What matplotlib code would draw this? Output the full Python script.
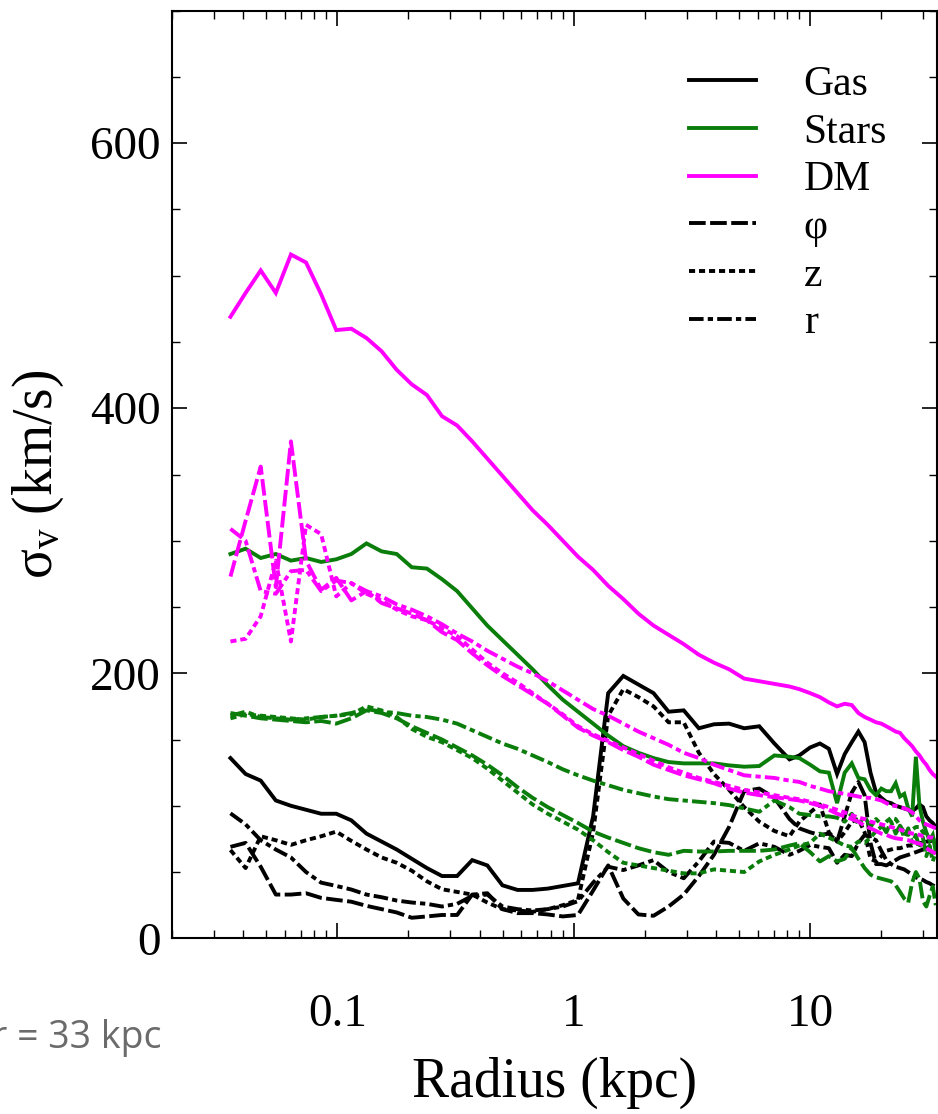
import matplotlib
matplotlib.use('Agg')
import matplotlib.pyplot as plt
from matplotlib.lines import Line2D
from matplotlib.ticker import FixedLocator, MultipleLocator, LogLocator, NullFormatter

plt.rcParams['font.family'] = ['Liberation Serif', 'DejaVu Serif']
plt.rcParams['mathtext.fontset'] = 'custom'
plt.rcParams['mathtext.rm'] = 'Liberation Serif'
plt.rcParams['mathtext.it'] = 'Liberation Serif:italic'
plt.rcParams['lines.scale_dashes'] = False

# ---------------- data ----------------
radius_kpc = [0.03534, 0.04095, 0.04745, 0.05497, 0.06368, 0.07378, 0.08547, 0.09902,
              0.1147, 0.1329, 0.1540, 0.1784, 0.2066, 0.2394, 0.2773, 0.3213, 0.3722,
              0.4312, 0.4995, 0.5787, 0.6704, 0.7767, 0.8998, 1.0425, 1.208, 1.399,
              1.621, 1.878, 2.176, 2.520, 2.920, 3.383, 3.919, 4.541, 5.260, 6.094,
              7.061, 8.180,
              9, 10, 11, 12, 13, 14, 15, 16, 17, 18, 19, 20, 21, 22, 23, 24, 25, 26,
              27, 28, 29, 30, 31, 32, 33, 34]

gas_total = [136, 124, 119, 104, 100, 97, 94, 94, 89, 79, 73, 67, 60, 53, 47, 47, 59, 55, 40, 36.5,
             36.5, 37.5, 39.5, 41.5, 92, 185, 198, 191.5, 185, 171, 172, 158.5, 161.5, 162, 158.5, 160, 147, 135,
             138, 144, 147, 143, 124, 139, 148, 156, 148, 125, 110, 106, 103, 102, 100, 99, 98, 97, 96, 98,
             101, 99, 92, 89, 87, 84]
gas_phi = [69, 72, 54, 33, 33, 34, 30.5, 29, 27.6, 24.5, 22, 19.5, 15.5, 16.5, 17.6, 17.6, 33, 34, 22, 19,
           19, 18, 16.5, 17.6, 36, 55, 30, 18, 17, 24, 33, 47, 63, 84, 111, 113, 106, 90,
           83, 80, 78, 79, 73, 92, 110, 118, 108, 72, 56, 56, 55, 57, 59, 61, 62, 63, 64, 65,
           66, 67, 68, 69, 70, 71.5]
gas_z = [66.6, 53, 77, 74, 70.5, 74, 77, 80.5, 73.5, 67, 61, 57, 51, 43, 37, 35, 33, 27, 22, 21,
         20, 22, 25, 29, 80, 168, 188, 182, 175, 163, 163, 140, 124, 112, 99, 88, 81, 77,
         88, 95, 101, 80, 73, 80, 88, 90, 80, 60, 58, 62, 66, 67, 68, 68, 69, 70, 70, 71,
         72, 72, 73, 73, 74, 74]
gas_r = [94.3, 86, 74, 67, 61, 50, 42, 39.5, 36.8, 33, 31, 28.5, 27, 26, 24, 26, 32, 33, 24, 22,
         21, 22, 24, 28, 42, 54, 51.5, 55, 59, 50, 45.3, 58, 73, 72, 66, 71.7, 69, 63,
         66, 70.4, 69, 68, 57, 63, 62, 72, 78, 76, 74, 66, 59, 56, 54, 53, 52, 50, 48, 46,
         45, 44, 42.5, 41.5, 40, 39]

stars_total = [290, 294, 287, 290, 285, 287, 284, 286, 290, 298, 292, 290, 280, 279, 271, 262, 249, 236, 225, 214,
               203, 191, 180, 171, 162, 153, 145, 140, 136, 133, 132, 132, 132, 130.5, 129.5, 130, 138, 137,
               136, 131, 126, 125, 102, 125, 132, 121, 120, 112, 108, 113, 111, 111, 117, 107, 109, 98,
               92, 137, 100, 88, 80, 74, 78, 65]
stars_phi = [170, 168, 166, 165, 164, 163, 164, 162, 166, 172, 170, 166, 160, 155, 150, 144, 138, 131, 123, 114,
             106, 99, 93, 87, 80.5, 76, 72, 68, 65, 63, 66, 65.5, 65.5, 66, 66, 66, 67, 70,
             71.7, 65, 58, 62, 58, 60, 68, 60, 53, 48, 46, 45, 44, 43, 40, 35, 30, 27,
             42, 50, 45, 28, 24, 32, 39, 25]
stars_z = [166, 169, 168, 167, 166, 165, 167, 168, 169, 175, 172, 167, 158, 152, 148, 142, 136, 128, 119, 110,
           101, 94, 88, 82, 74, 65, 57, 55, 53, 51, 49, 49, 52, 51, 50, 58, 63, 67,
           70, 72, 79, 76, 73, 70, 69, 73, 72, 76, 81, 84, 88, 91, 90, 85, 80, 78,
           82, 84, 84, 80, 78, 76, 75, 72]
stars_r = [168, 171, 167, 166, 165, 166, 167, 168, 170, 173, 171, 170, 168, 167, 165, 162, 157, 152, 147, 143,
           138, 133, 127.5, 123, 119, 115.5, 112, 109.5, 107, 105, 104, 103, 102, 100.5, 98, 95.5, 104, 99,
           94, 93, 92, 92, 91, 88, 94, 86, 92, 84, 90, 86, 80, 88, 79, 85, 76, 83,
           72, 78, 68, 76, 62, 70, 58, 65]

dm_total = [469, 487, 504, 487, 516, 510, 486, 459, 460, 453, 443, 429, 418, 410, 394, 387, 375, 362, 349, 336,
            323, 312, 300, 288, 278, 266, 256, 245, 236, 229, 222, 214, 208, 203, 196, 194, 192, 190,
            188, 185, 182, 178, 175, 177, 176, 170, 167, 165, 163, 162, 160, 158, 156, 155, 151, 148,
            145, 141, 138, 134, 131, 127, 124, 122]
dm_phi = [273, 315, 356, 265, 375, 285, 263, 272, 255, 262, 253, 249, 245, 240, 231, 225, 215, 206, 198, 191,
          184, 177, 168, 159, 153, 148, 142, 137, 131, 127, 123, 120, 117, 113, 110, 108, 106.5, 105,
          104, 102, 100, 97, 94, 92, 90, 88, 85, 83, 81, 79, 78, 76.5, 75.5, 75, 74.5, 74,
          73, 72, 71.5, 70, 68, 66.5, 65, 64]
dm_z = [224, 226, 243, 285, 224, 312, 305, 258, 268, 260, 255, 248, 243, 240, 234, 228, 218, 208, 200, 193,
        185, 177, 169, 160, 154, 149, 144, 139, 134, 129, 125, 121, 118, 115, 112, 110, 108, 106,
        105, 103, 101, 99, 97, 95, 93, 91, 90, 88, 87, 86, 85, 84, 83, 82, 81, 80,
        79, 79, 78, 77, 77, 76, 76, 75]
dm_r = [309, 300, 262, 260, 277, 278, 262, 270, 268, 262, 258, 252, 248, 243, 237, 230, 224, 217, 211, 205,
        200, 194, 187, 180, 173, 168, 162, 156, 151, 146, 140, 136, 131, 127, 123, 122, 121, 119,
        118, 115, 113, 111, 110, 109, 108, 107, 106, 106, 105, 104, 102, 100, 100, 99, 98, 97,
        95, 92, 89, 87, 86, 85, 84, 83]

legend_labels = ['Gas', 'Stars', 'DM', 'φ', 'z', 'r']
x_tick_values = [0.1, 1, 10]
x_tick_labels = ['0.1', '1', '10']
y_tick_values = [0, 200, 400, 600]

# ---------------- style ----------------
C_GAS, C_STARS, C_DM = 'black', '#0a7d0a', '#ff00ff'
LW = 2.8
LS_SOLID = '-'
LS_PHI = (0, (12.0, 3.2))
LS_Z = (0, (4.4, 2.8))
LS_R = (0, (10.5, 3.0, 3.8, 3.0))

fig = plt.figure(figsize=(9.38, 11.14), dpi=100)
ax = fig.add_axes([172 / 938, 1 - 938.3 / 1114, 765 / 938, (938.3 - 10.7) / 1114])

series = [
    (gas_total, C_GAS, LS_SOLID), (gas_phi, C_GAS, LS_PHI), (gas_z, C_GAS, LS_Z), (gas_r, C_GAS, LS_R),
    (stars_total, C_STARS, LS_SOLID), (stars_phi, C_STARS, LS_PHI), (stars_z, C_STARS, LS_Z), (stars_r, C_STARS, LS_R),
    (dm_total, C_DM, LS_SOLID), (dm_phi, C_DM, LS_PHI), (dm_z, C_DM, LS_Z), (dm_r, C_DM, LS_R),
]
for vals, col, ls in series:
    ax.plot(radius_kpc, vals, color=col, ls=ls, lw=LW, dash_capstyle='butt', solid_joinstyle='miter')

ax.set_xscale('log')
ax.set_xlim(0.02, 34.4)
ax.set_ylim(0, 700)

ax.xaxis.set_major_locator(FixedLocator(x_tick_values))
ax.set_xticklabels(x_tick_labels)
ax.xaxis.set_minor_locator(LogLocator(base=10, subs=[2, 3, 4, 5, 6, 7, 8, 9], numticks=20))
ax.xaxis.set_minor_formatter(NullFormatter())
ax.yaxis.set_major_locator(FixedLocator(y_tick_values))
ax.yaxis.set_minor_locator(MultipleLocator(50))

ax.tick_params(which='both', direction='in', top=True, right=True, labelsize=34)
ax.tick_params(which='major', length=10.5, width=1.2)
ax.tick_params(which='minor', length=5.5, width=1.0)
ax.tick_params(axis='x', which='major', pad=40)
ax.tick_params(axis='y', which='major', pad=8)
for sp in ax.spines.values():
    sp.set_linewidth(1.5)

ax.set_xlabel('Radius (kpc)', fontsize=40)
ax.xaxis.set_label_coords(0.5, -0.128)
ax.set_ylabel('σ$_{\\mathrm{v}}$ (km/s)', fontsize=40)
ax.yaxis.set_label_coords(-0.139, 0.5)

handles = [Line2D([], [], color=C_GAS, lw=LW),
           Line2D([], [], color=C_STARS, lw=LW),
           Line2D([], [], color=C_DM, lw=LW),
           Line2D([], [], color='black', lw=LW, ls=LS_PHI, dash_capstyle='butt'),
           Line2D([], [], color='black', lw=LW, ls=LS_Z, dash_capstyle='butt'),
           Line2D([], [], color='black', lw=LW, ls=LS_R, dash_capstyle='butt')]
ax.legend(handles, legend_labels, loc='upper left', bbox_to_anchor=(0.676, 0.941),
          frameon=False, fontsize=30, handlelength=1.6, handletextpad=1.15,
          labelspacing=0.22, borderaxespad=0, borderpad=0)

fig.text(161 / 938, 1 - 1048 / 1114, 'r = 33 kpc', ha='right', va='baseline',
         fontsize=27, color='#6b6b6b', family=['Open Sans', 'DejaVu Sans'])

fig.savefig('out.png', dpi=100)
